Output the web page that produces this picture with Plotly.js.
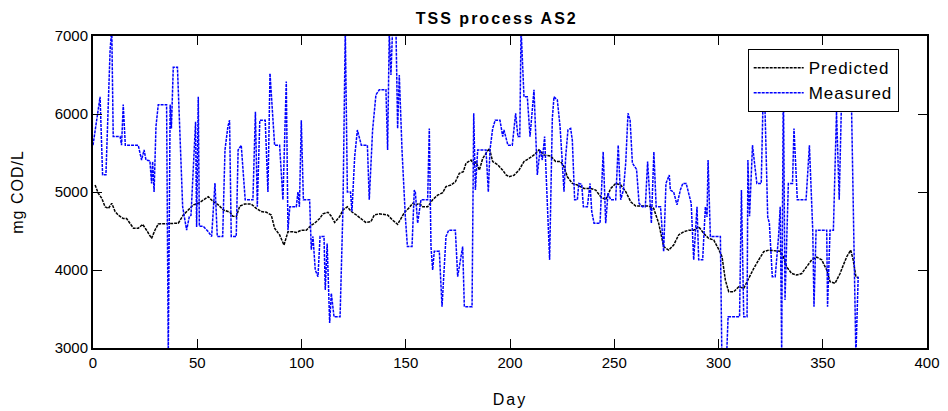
<!DOCTYPE html>
<html>
<head>
<meta charset="utf-8">
<script src="https://cdn.plot.ly/plotly-3.0.1.min.js"></script>
<style>
html,body{margin:0;padding:0;background:#fff;}
#chart{width:948px;height:411px;}
.gtitle{letter-spacing:2px;}
.xtitle{letter-spacing:2px;}
.ytitle{letter-spacing:1px;}
.legendtext{letter-spacing:1px;}
</style>
</head>
<body>
<div id="chart"></div>
<script>
// Predicted (model) series: day, value (mg COD/L)
const predDays = [1,2.5,4.2,5.8,7.4,9,10.6,12.1,14.5,16.1,17.7,19.4,21.7,23.8,25.7,28.1,29.7,31.3,40.9,43.3,45.7,48.1,50.5,52.9,55.3,57.7,60.1,62.5,65.7,67.1,68.7,70.4,72.7,75.9,78.3,80.7,83.2,85.5,87.1,89.5,91.6,93.5,96,97.5,99.9,102.3,104.7,106.3,108.7,110.3,112.7,114.3,115.9,118.3,119.9,122,123.9,126.3,128.7,130.8,133.3,134.9,137.3,141.3,143.7,146.1,147.7,149.3,151.7,153.3,154.9,156.5,158.1,160.5,162.9,165.3,167.7,169.3,171.7,173.8,175.7,177.6,178.9,181.3,182.9,183.7,185.3,186.9,188.5,190.1,191.7,194.1,196.5,198.1,199.5,201.9,204.3,206.7,209.1,211.5,213.9,216.3,219.5,221.9,224.3,225.9,227.5,229.9,232.3,235.5,238.7,241.1,243.5,245.9,248.3,250.7,253.1,255.5,257.9,260.3,266.5,268.9,271.3,273.7,276.1,278.5,280.9,283.3,285.7,288.1,290.5,292.9,295.3,297.7,299.8,301.7,303.3,304.9,307.3,309.7,312.1,314.5,316.9,319.3,321.7,324.1,329.5,331.1,332.7,335.1,337.5,339.9,342.3,344.7,347.1,349.5,351.9,353.5,355.9,358.3,359.9,361.5,363.4,364.6,365.9,367];
const predValues = [5090,4985,4920,4810,4790,4855,4750,4705,4660,4660,4600,4535,4535,4585,4510,4405,4510,4590,4600,4705,4770,4835,4855,4900,4940,4875,4835,4770,4740,4690,4685,4820,4845,4845,4790,4750,4740,4705,4535,4450,4320,4490,4490,4480,4510,4510,4575,4600,4660,4720,4740,4690,4610,4685,4770,4810,4750,4705,4660,4610,4620,4705,4720,4705,4640,4585,4660,4735,4800,4855,4835,4855,4810,4810,4900,4960,4990,5070,5090,5130,5240,5260,5370,5410,5350,5390,5280,5430,5495,5560,5390,5350,5280,5220,5195,5215,5280,5390,5430,5475,5540,5475,5460,5390,5390,5325,5195,5110,5090,5045,5045,5025,4940,4900,5045,5110,5090,5005,4875,4820,4820,4790,4600,4300,4255,4320,4450,4490,4510,4510,4555,4470,4405,4385,4280,4170,3870,3720,3720,3785,3765,3895,4020,4130,4235,4255,4240,4170,4040,3955,3935,3955,4040,4130,4165,4130,4000,3850,3830,3955,4065,4170,4255,4130,3915,3900];

// Measured series: day, value (mg COD/L)
const measDays = [0,3.4,4.6,6.2,8.2,9,9.7,13,13.7,14.5,15.5,21.7,23.3,24.5,25.4,27.3,28.1,28.6,29.3,30.2,31.3,35.3,36.1,37,37.6,38.5,40.5,41.7,43,44.9,46.2,47,48.4,49.2,49.7,50.5,51,52.9,55,56.9,58.5,59.6,62.2,63.3,64.7,65.5,66.3,68.7,69.6,71.1,73,76.7,77.9,78.8,80,82.6,83.9,84.9,87.1,89.5,91.1,92.7,93.5,94.4,97.5,98.3,99,99.9,100.9,103.9,104.7,105.5,106.6,107.9,108.9,110.8,111.4,112.3,113.5,114.3,115.6,118.5,119.9,121,122,123.5,124.2,125.5,126.8,128.7,131.6,132.5,134.1,135.7,137.3,140.5,141.3,142.1,142.9,143.7,145.3,146.1,146.9,148.2,149.8,150.8,153,154.1,154.6,155.7,157.3,160.5,161.3,162.1,162.9,163.7,166.1,167.4,169.3,170.6,173.8,174.9,176,177.3,178.1,181.8,182.6,183.4,184.5,188.5,189.6,190.4,191.7,192.9,195.2,196.5,197.1,199,201.1,202.7,203.8,204.7,205.3,206.7,208.3,209.6,211.5,213.1,214.4,215.5,216.6,219,220.3,221.1,222.7,224,225.1,225.9,226.7,227.8,229.1,229.9,231,232.3,233,234.4,235.2,237.1,238.4,239.2,240.3,243.2,244.7,245.9,247,248.3,250.7,251.9,253.1,254.4,255.5,256.6,257.6,258.7,260.7,261.9,263.5,264.9,266,266.8,267.8,269,270.1,272.2,273.7,274.8,276.4,276.9,278.5,280.1,281.7,282.9,284.5,286.9,288.1,289.7,290.5,292.4,293.7,294.5,295,296.1,300.9,301.6,303.9,304.6,310.1,311,312.1,313.7,314.1,314.9,316.3,318.4,320.5,321.3,321.9,323.6,324.4,325.8,327.2,328.8,329.6,330.3,331.1,331.9,333.5,335.5,336.2,337.8,342,343.6,345.2,345.8,346.8,351.9,352.3,353.5,355.1,356.6,357.9,359.2,363.6,365.9,367];
const measValues = [5600,6220,5220,5220,6820,7100,5710,5710,5600,6120,5600,5600,5410,5540,5410,5400,5110,5390,5000,5840,6120,6120,2900,6120,5815,6600,6600,5795,4810,4510,4685,4700,5370,5900,4550,6220,4560,4560,4500,4430,5115,4430,4430,5540,5840,5920,4430,4430,5540,5600,4900,4900,6030,4810,5920,5920,5000,6520,5600,5600,4900,6415,4510,4810,4810,5000,4810,5920,4900,4900,4260,4430,4000,3915,4430,4430,3745,4340,3320,3700,3400,3400,4810,7100,5000,5000,4750,5450,5795,5600,5600,4900,5795,6245,6310,6310,5540,7050,6500,7100,7100,5815,6500,5540,4685,4300,4300,5025,5000,4600,4900,4900,5815,4300,4000,4240,4240,3530,4430,4510,4510,3915,4090,4300,3530,3530,6010,5025,5540,5540,5000,5540,5815,5920,5920,5710,5795,5600,5600,6010,5710,5710,7100,6220,6220,5710,6310,5218,5540,5410,5710,4130,5945,6220,6180,5840,5370,5004,5450,5795,5815,5660,4900,4900,5110,5100,4810,4810,5110,4750,4600,4600,5515,4600,4985,4900,4900,5600,4900,5025,5370,6010,5920,5370,5290,4855,4810,4810,5390,4985,4600,5515,4810,4810,4235,5110,5218,5025,5000,4835,5025,5110,5110,4855,4130,4810,4130,4130,4810,4680,5410,4430,4430,2900,2900,3400,3400,5025,3400,3400,5410,4690,5600,5110,5110,6095,6500,4680,4600,3915,3915,4430,4810,2950,6500,3615,5110,5110,5815,4900,4900,5600,4510,3530,4510,4510,3530,4510,4510,6030,4900,6400,6400,2900,3915];

const seriesNames = ['Predicted', 'Measured'];
const titleText = 'TSS process AS2';
const xLabel = 'Day';
const yLabel = 'mg COD/L';
const xTicks = [0,50,100,150,200,250,300,350,400];
const yTicks = [3000,4000,5000,6000,7000];

const fontFam = 'Liberation Sans, Arial, sans-serif';

const traces = [
  {x: predDays, y: predValues, name: seriesNames[0], type: 'scatter', mode: 'lines',
   line: {color: '#000000', width: 1.5, dash: '3px,1px'}},
  {x: measDays, y: measValues, name: seriesNames[1], type: 'scatter', mode: 'lines',
   line: {color: '#0000ff', width: 1.5, dash: '3px,1px'}}
];

const axisCommon = {
  showline: true, linecolor: '#000', linewidth: 2, mirror: 'ticks',
  ticks: 'inside', ticklen: 9, tickwidth: 1, tickcolor: '#000',
  showgrid: false, zeroline: false,
  tickfont: {family: fontFam, size: 15, color: '#000'}
};

const layout = {
  width: 948, height: 411,
  margin: {l: 93, r: 21, t: 36, b: 63},
  paper_bgcolor: '#fff', plot_bgcolor: '#fff',
  showlegend: true,
  title: {text: titleText, x: 0.524, xanchor: 'center', y: 0.955, yanchor: 'middle',
          font: {family: fontFam, size: 16, color: '#000', weight: 'bold'}},
  xaxis: Object.assign({}, axisCommon, {
    range: [0, 400], tickvals: xTicks, ticktext: xTicks.map(String),
    title: {text: xLabel, font: {family: fontFam, size: 16, color: '#000'}, standoff: 24}
  }),
  yaxis: Object.assign({}, axisCommon, {
    range: [3000, 7000], tickvals: yTicks, ticktext: yTicks.map(String),
    title: {text: yLabel, font: {family: fontFam, size: 16, color: '#000'}, standoff: 27}
  }),
  legend: {x: 0.785, y: 0.958, xanchor: 'left', yanchor: 'top',
           bgcolor: '#fff', bordercolor: '#000', borderwidth: 1,
           font: {family: fontFam, size: 17, color: '#000'},
           tracegroupgap: 0, itemwidth: 50}
};

Plotly.newPlot('chart', traces, layout, {displayModeBar: false, staticPlot: true});
</script>
</body>
</html>
